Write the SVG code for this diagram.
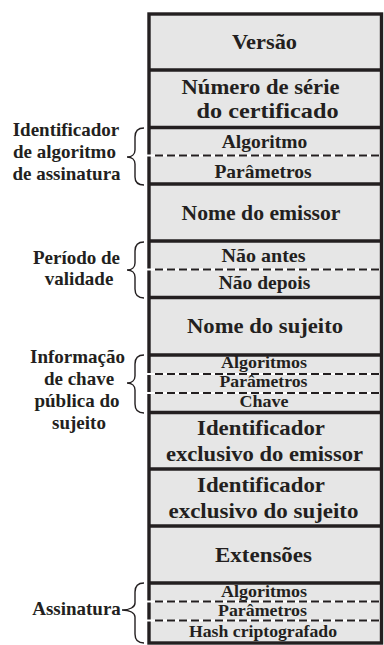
<svg xmlns="http://www.w3.org/2000/svg" width="384" height="645" viewBox="0 0 384 645">
<style>
  .fld { fill: #e6e6e6; stroke: none; }
  .sep { stroke: #231f20; stroke-width: 3.4; fill: none; }
  .dashbg { stroke: #ffffff; stroke-width: 2; }
  .dash { stroke: #231f20; stroke-width: 2; stroke-dasharray: 8 4; }
  text { font-family: "Liberation Serif", "Times New Roman", serif; font-weight: bold; fill: #231f20; text-anchor: middle; }
  .big { font-size: 21px; }
  .mid { font-size: 19.5px; }
  .sml { font-size: 17.5px; }
  .lbl { font-size: 19px; }
  .brace { stroke: #231f20; stroke-width: 1.4; fill: none; }
</style>
<rect x="0" y="0" width="384" height="645" fill="#ffffff"/>
<rect class="fld" x="149" y="14" width="232.5" height="629"/>

<g id="versao">
  <text class="big" x="264.5" y="49" textLength="65" lengthAdjust="spacingAndGlyphs">Versão</text>
</g>
<g id="numero-serie">
  <line class="sep" x1="149" y1="70" x2="381.5" y2="70"/>
  <text class="big" x="260.5" y="94" textLength="158" lengthAdjust="spacingAndGlyphs">Número de série</text>
  <text class="big" x="267.5" y="118" textLength="142" lengthAdjust="spacingAndGlyphs">do certificado</text>
</g>
<g id="algoritmo-assinatura">
  <line class="sep" x1="149" y1="127.5" x2="381.5" y2="127.5"/>
  <line class="dashbg" x1="147" y1="155.5" x2="380" y2="155.5"/>
  <line class="dash" x1="155" y1="155.5" x2="380" y2="155.5"/>
  <text class="mid" x="264.5" y="148">Algoritmo</text>
  <text class="mid" x="263" y="178">Parâmetros</text>
</g>
<g id="nome-emissor">
  <line class="sep" x1="149" y1="184" x2="381.5" y2="184"/>
  <text class="big" x="261" y="219.5" textLength="159" lengthAdjust="spacingAndGlyphs">Nome do emissor</text>
</g>
<g id="periodo-validade">
  <line class="sep" x1="149" y1="241" x2="381.5" y2="241"/>
  <line class="dashbg" x1="147" y1="269.5" x2="380" y2="269.5"/>
  <line class="dash" x1="155" y1="269.5" x2="380" y2="269.5"/>
  <text class="mid" x="263.5" y="262" textLength="84" lengthAdjust="spacingAndGlyphs">Não antes</text>
  <text class="mid" x="264.5" y="289">Não depois</text>
</g>
<g id="nome-sujeito">
  <line class="sep" x1="149" y1="297.5" x2="381.5" y2="297.5"/>
  <text class="big" x="265" y="333" textLength="156" lengthAdjust="spacingAndGlyphs">Nome do sujeito</text>
</g>
<g id="chave-publica">
  <line class="sep" x1="149" y1="355" x2="381.5" y2="355"/>
  <line class="dashbg" x1="147" y1="374" x2="380" y2="374"/>
  <line class="dash" x1="155" y1="374" x2="380" y2="374"/>
  <line class="dashbg" x1="147" y1="393" x2="380" y2="393"/>
  <line class="dash" x1="155" y1="393" x2="380" y2="393"/>
  <text class="sml" x="264" y="368" textLength="86" lengthAdjust="spacingAndGlyphs">Algoritmos</text>
  <text class="sml" x="263.5" y="387" textLength="88" lengthAdjust="spacingAndGlyphs">Parâmetros</text>
  <text class="sml" x="264" y="407" textLength="49" lengthAdjust="spacingAndGlyphs">Chave</text>
</g>
<g id="id-exclusivo-emissor">
  <line class="sep" x1="149" y1="412.5" x2="381.5" y2="412.5"/>
  <text class="big" x="261" y="435" textLength="128" lengthAdjust="spacingAndGlyphs">Identificador</text>
  <text class="big" x="264.5" y="461" textLength="197" lengthAdjust="spacingAndGlyphs">exclusivo do emissor</text>
</g>
<g id="id-exclusivo-sujeito">
  <line class="sep" x1="149" y1="469" x2="381.5" y2="469"/>
  <text class="big" x="261" y="492" textLength="128" lengthAdjust="spacingAndGlyphs">Identificador</text>
  <text class="big" x="263.5" y="518" textLength="190" lengthAdjust="spacingAndGlyphs">exclusivo do sujeito</text>
</g>
<g id="extensoes">
  <line class="sep" x1="149" y1="526" x2="381.5" y2="526"/>
  <text class="big" x="263.5" y="562" textLength="97" lengthAdjust="spacingAndGlyphs">Extensões</text>
</g>
<g id="assinatura">
  <line class="sep" x1="149" y1="583" x2="381.5" y2="583"/>
  <line class="dashbg" x1="147" y1="601.5" x2="380" y2="601.5"/>
  <line class="dash" x1="155" y1="601.5" x2="380" y2="601.5"/>
  <line class="dashbg" x1="147" y1="620.5" x2="380" y2="620.5"/>
  <line class="dash" x1="155" y1="620.5" x2="380" y2="620.5"/>
  <text class="sml" x="264" y="597" textLength="86" lengthAdjust="spacingAndGlyphs">Algoritmos</text>
  <text class="sml" x="262.5" y="616" textLength="89" lengthAdjust="spacingAndGlyphs">Parâmetros</text>
  <text class="sml" x="263" y="637" textLength="148" lengthAdjust="spacingAndGlyphs">Hash criptografado</text>
</g>

<g id="frame">
  <rect x="149" y="14" width="232.5" height="629" fill="none" stroke="#231f20" stroke-width="3.4"/>
  <line class="dashbg" x1="147" y1="155.5" x2="153" y2="155.5"/>
  <line class="dashbg" x1="147" y1="269.5" x2="153" y2="269.5"/>
  <line class="dashbg" x1="147" y1="374" x2="153" y2="374"/>
  <line class="dashbg" x1="147" y1="393" x2="153" y2="393"/>
  <line class="dashbg" x1="147" y1="601.5" x2="153" y2="601.5"/>
  <line class="dashbg" x1="147" y1="620.5" x2="153" y2="620.5"/>
</g>

<g id="lbl-id-algoritmo">
  <text class="lbl" x="66" y="136">Identificador</text>
  <text class="lbl" x="64.5" y="158">de algoritmo</text>
  <text class="lbl" x="66.5" y="180">de assinatura</text>
</g>
<g id="lbl-periodo">
  <text class="lbl" x="76.5" y="264">Período de</text>
  <text class="lbl" x="79" y="285">validade</text>
</g>
<g id="lbl-chave-publica">
  <text class="lbl" x="77.5" y="363">Informação</text>
  <text class="lbl" x="79" y="385">de chave</text>
  <text class="lbl" x="77" y="407">pública do</text>
  <text class="lbl" x="79" y="429">sujeito</text>
</g>
<g id="lbl-assinatura">
  <text class="lbl" x="76.5" y="615">Assinatura</text>
</g>

<g id="connectors">
  <path class="brace" d="M144,128 C138,128 135,131 135,137 L135,150 C135,154 132,157 127,157 C132,157 135,160 135,164 L135,177 C135,182 138,185 144,185"/>
  <path class="brace" d="M144,242 C138,242 135,245 135,251 L135,263 C135,267 132,270 127,270 C132,270 135,273 135,277 L135,289 C135,295 138,298 144,298"/>
  <path class="brace" d="M144,355 C138,355 135,358 135,364 L135,376 C135,380 132,383 127,383 C132,383 135,386 135,390 L135,404 C135,410 138,413 144,413"/>
  <path class="brace" d="M144,583 C138,583 135,586 135,592 L135,603 C135,607 130,610 122,610 C130,610 135,613 135,617 L135,634 C135,640 138,643 144,643"/>
</g>
</svg>
